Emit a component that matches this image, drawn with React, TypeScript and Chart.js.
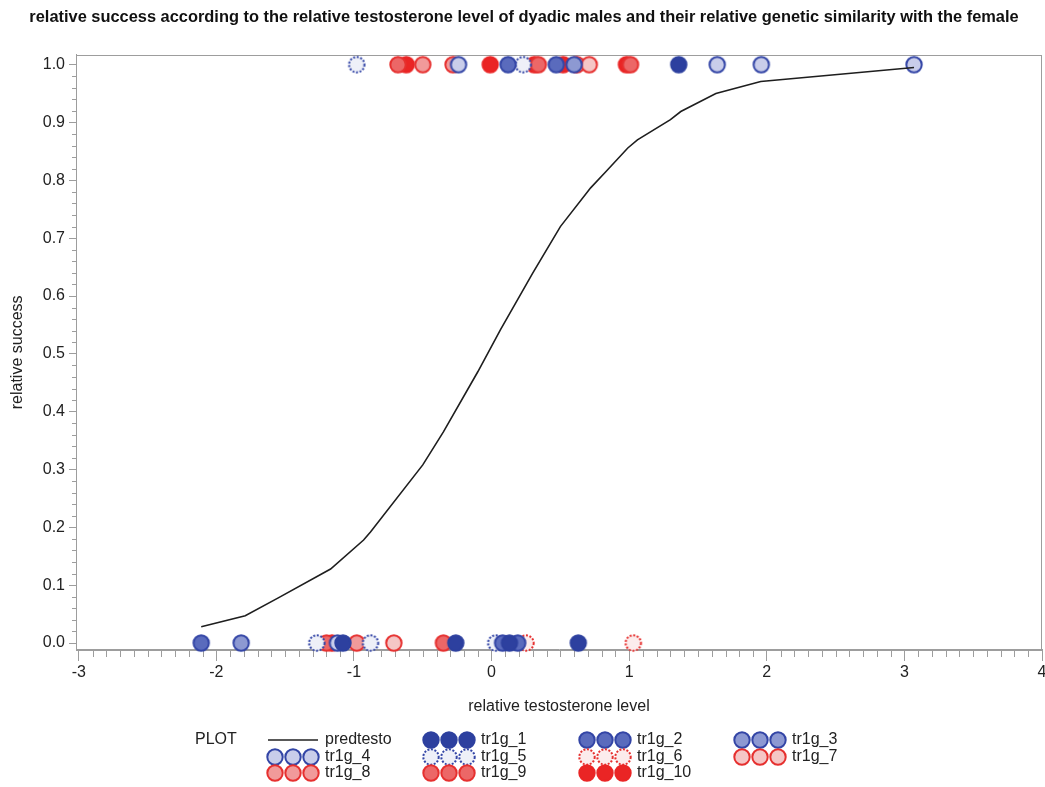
import React, { useEffect, useRef } from 'react';
import { Chart, registerables } from 'chart.js';

Chart.register(...registerables);

const FONT = '"Liberation Sans", Arial, Helvetica, sans-serif';

const chartTitle =
  'relative success according to the relative testosterone level of dyadic males and their relative genetic similarity with the female';
const xAxisTitle = 'relative testosterone level';
const yAxisTitle = 'relative success';

const xTickValues = [-3, -2, -1, 0, 1, 2, 3, 4];
const yTickValues = [0, 0.1, 0.2, 0.3, 0.4, 0.5, 0.6, 0.7, 0.8, 0.9, 1.0];

// predicted curve (predtesto)
const predX = [-2.11, -1.79, -1.55, -1.17, -0.93, -0.88, -0.5, -0.35, -0.1, 0.065, 0.3, 0.5, 0.72, 0.83, 0.99, 1.06, 1.3, 1.375, 1.63, 1.956, 3.07];
const predY = [0.028, 0.047, 0.078, 0.128, 0.178, 0.192, 0.308, 0.365, 0.469, 0.542, 0.64, 0.72, 0.787, 0.815, 0.856, 0.87, 0.905, 0.919, 0.95, 0.971, 0.995];

// observed groups
const tr1g1X = [1.36, -1.08, -0.26, 0.13, 0.63];
const tr1g1Y = [1, 0, 0, 0, 0];
const tr1g2X = [0.12, 0.47, -2.11, 0.08, 0.19];
const tr1g2Y = [1, 1, 0, 0, 0];
const tr1g3X = [0.6, -1.82];
const tr1g3Y = [1, 0];
const tr1g4X = [-0.24, 1.64, 1.96, 3.07, -1.12];
const tr1g4Y = [1, 1, 1, 1, 0];
const tr1g5X = [-0.98, 0.23, -1.27, -0.88, 0.03];
const tr1g5Y = [1, 1, 0, 0, 0];
const tr1g6X = [0.25, 1.03];
const tr1g6Y = [0, 0];
const tr1g7X = [0.71, -0.71];
const tr1g7Y = [1, 0];
const tr1g8X = [-0.5, -0.28, 0.62, -0.98];
const tr1g8Y = [1, 1, 1, 0];
const tr1g9X = [-0.68, 0.34, 1.01, -1.2, -0.35];
const tr1g9Y = [1, 1, 1, 0, 0];
const tr1g10X = [-0.62, -0.01, 0.31, 0.52, 0.98, -1.16];
const tr1g10Y = [1, 1, 1, 1, 1, 0];

const groupNames = ['tr1g_1', 'tr1g_2', 'tr1g_3', 'tr1g_4', 'tr1g_5', 'tr1g_6', 'tr1g_7', 'tr1g_8', 'tr1g_9', 'tr1g_10'];
const groupXs = [tr1g1X, tr1g2X, tr1g3X, tr1g4X, tr1g5X, tr1g6X, tr1g7X, tr1g8X, tr1g9X, tr1g10X];
const groupYs = [tr1g1Y, tr1g2Y, tr1g3Y, tr1g4Y, tr1g5Y, tr1g6Y, tr1g7Y, tr1g8Y, tr1g9Y, tr1g10Y];

const BLUE = '#3345a6';
const RED = '#e6302f';
const groupStyles = [
  { fill: '#2d409f', stroke: '#2d409f', dashed: false },
  { fill: '#5a6bbd', stroke: BLUE, dashed: false },
  { fill: '#8d99d2', stroke: BLUE, dashed: false },
  { fill: '#c9cdea', stroke: BLUE, dashed: false },
  { fill: '#eef0f8', stroke: BLUE, dashed: true },
  { fill: '#fcecec', stroke: RED, dashed: true },
  { fill: '#f5c6c6', stroke: RED, dashed: false },
  { fill: '#f19a9a', stroke: RED, dashed: false },
  { fill: '#ec6767', stroke: RED, dashed: false },
  { fill: '#ea2525', stroke: '#ea2525', dashed: false },
];

const CANVAS_W = 1052;
const CANVAS_H = 787;

function makeMarker(fill: string, stroke: string, dashed: boolean): HTMLCanvasElement {
  const c = document.createElement('canvas');
  c.width = 22;
  c.height = 22;
  const g = c.getContext('2d')!;
  g.beginPath();
  g.arc(11, 11, 7.7, 0, Math.PI * 2);
  g.fillStyle = fill;
  g.fill();
  g.lineWidth = 2;
  g.strokeStyle = stroke;
  if (dashed) g.setLineDash([2, 1.6]);
  g.stroke();
  return c;
}

// legend layout: [row, col] per entry
const legendRows = [740, 757, 773];
const legendTextX = [325, 481, 637, 792];
const legendSlots: Array<[number, number]> = [
  [0, 1], [0, 2], [0, 3],
  [1, 0], [1, 1], [1, 2], [1, 3],
  [2, 0], [2, 1], [2, 2],
];

export default function App() {
  const ref = useRef<HTMLCanvasElement | null>(null);

  useEffect(() => {
    if (!ref.current) return;
    const markers = groupStyles.map((s) => makeMarker(s.fill, s.stroke, s.dashed));

    const decor = {
      id: 'decor',
      beforeDatasetsDraw(chart: any) {
        const { ctx, chartArea: a, scales } = chart;
        const x = scales.x;
        const y = scales.y;
        ctx.save();
        ctx.strokeStyle = '#9d9d9d';
        ctx.lineWidth = 1;
        ctx.strokeRect(Math.round(a.left) + 0.5, Math.round(a.top) + 0.5, Math.round(a.right - a.left) - 1, Math.round(a.bottom - a.top));
        ctx.beginPath();
        for (let v = -30; v <= 40; v++) {
          if (v % 10 === 0) continue;
          const px = Math.round(x.getPixelForValue(v / 10)) + 0.5;
          ctx.moveTo(px, a.bottom);
          ctx.lineTo(px, a.bottom + 7);
        }
        for (let v = 0; v <= 50; v++) {
          if (v % 5 === 0) continue;
          const py = Math.round(y.getPixelForValue(v / 50)) + 0.5;
          ctx.moveTo(a.left - 4, py);
          ctx.lineTo(a.left, py);
        }
        ctx.stroke();
        ctx.restore();
      },
      afterDraw(chart: any) {
        const { ctx, chartArea: a } = chart;
        ctx.save();
        ctx.fillStyle = '#222';
        ctx.font = `16px ${FONT}`;
        ctx.textAlign = 'center';
        ctx.textBaseline = 'middle';
        ctx.fillText(xAxisTitle, (a.left + a.right) / 2, 707);
        ctx.save();
        ctx.translate(18, (a.top + a.bottom) / 2);
        ctx.rotate(-Math.PI / 2);
        ctx.fillText(yAxisTitle, 0, 0);
        ctx.restore();

        // legend
        ctx.textAlign = 'left';
        ctx.fillText('PLOT', 195, legendRows[0]);
        ctx.strokeStyle = '#222';
        ctx.lineWidth = 1.5;
        ctx.beginPath();
        ctx.moveTo(legendTextX[0] - 57, legendRows[0]);
        ctx.lineTo(legendTextX[0] - 7, legendRows[0]);
        ctx.stroke();
        ctx.fillText('predtesto', legendTextX[0], legendRows[0]);
        groupNames.forEach((name, i) => {
          const [r, c] = legendSlots[i];
          const ty = legendRows[r];
          const tx = legendTextX[c];
          [-50, -32, -14].forEach((dx) => {
            ctx.drawImage(markers[i], tx + dx - 11, ty - 11);
          });
          ctx.fillText(name, tx, ty);
        });
        ctx.restore();
      },
    };

    const datasets: any[] = [
      {
        label: 'predtesto',
        data: predX.map((v, i) => ({ x: v, y: predY[i] })),
        showLine: true,
        borderColor: '#1e1e1e',
        borderWidth: 1.6,
        pointRadius: 0,
        fill: false,
        clip: false,
      },
    ];
    groupNames.forEach((name, i) => {
      datasets.push({
        label: name,
        data: groupXs[i].map((v, j) => ({ x: v, y: groupYs[i][j] })),
        pointStyle: markers[i],
        pointRadius: 9,
        showLine: false,
        clip: false,
      });
    });

    const chart = new Chart(ref.current, {
      type: 'scatter',
      data: { datasets },
      plugins: [decor],
      options: {
        animation: false,
        responsive: false,
        events: [],
        layout: { padding: { left: 0, right: 4, top: 0, bottom: 0 } },
        plugins: {
          legend: { display: false },
          tooltip: { enabled: false },
          title: {
            display: true,
            text: chartTitle,
            color: '#111',
            font: { family: FONT, size: 16.4, weight: 'bold' },
            padding: { top: 8, bottom: 27 },
          },
        },
        scales: {
          x: {
            type: 'linear',
            min: -3.02,
            max: 4.0,
            afterBuildTicks: (s: any) => {
              s.ticks = xTickValues.map((v) => ({ value: v }));
            },
            afterFit: (s: any) => {
              s.height = 137;
            },
            ticks: {
              color: '#222',
              font: { family: FONT, size: 16 },
              padding: 2,
              maxRotation: 0,
              callback: (v: any) => String(v),
            },
            grid: { display: true, drawOnChartArea: false, drawTicks: true, tickLength: 11, color: '#9d9d9d' },
            border: { display: true, color: '#9d9d9d' },
          },
          y: {
            type: 'linear',
            min: -0.0121,
            max: 1.0173,
            afterBuildTicks: (s: any) => {
              s.ticks = yTickValues.map((v) => ({ value: v }));
            },
            afterFit: (s: any) => {
              s.width = 76;
            },
            ticks: {
              color: '#222',
              font: { family: FONT, size: 16 },
              padding: 4,
              callback: (v: any) => Number(v).toFixed(1),
            },
            grid: { display: true, drawOnChartArea: false, drawTicks: true, tickLength: 7, color: '#9d9d9d' },
            border: { display: true, color: '#9d9d9d' },
          },
        },
      } as any,
    });
    return () => chart.destroy();
  }, []);

  return (
    <div style={{ position: 'fixed', left: 0, top: 0, width: CANVAS_W, height: CANVAS_H, background: '#fff' }}>
      <canvas ref={ref} width={CANVAS_W} height={CANVAS_H} style={{ display: 'block', width: CANVAS_W, height: CANVAS_H }} />
    </div>
  );
}
